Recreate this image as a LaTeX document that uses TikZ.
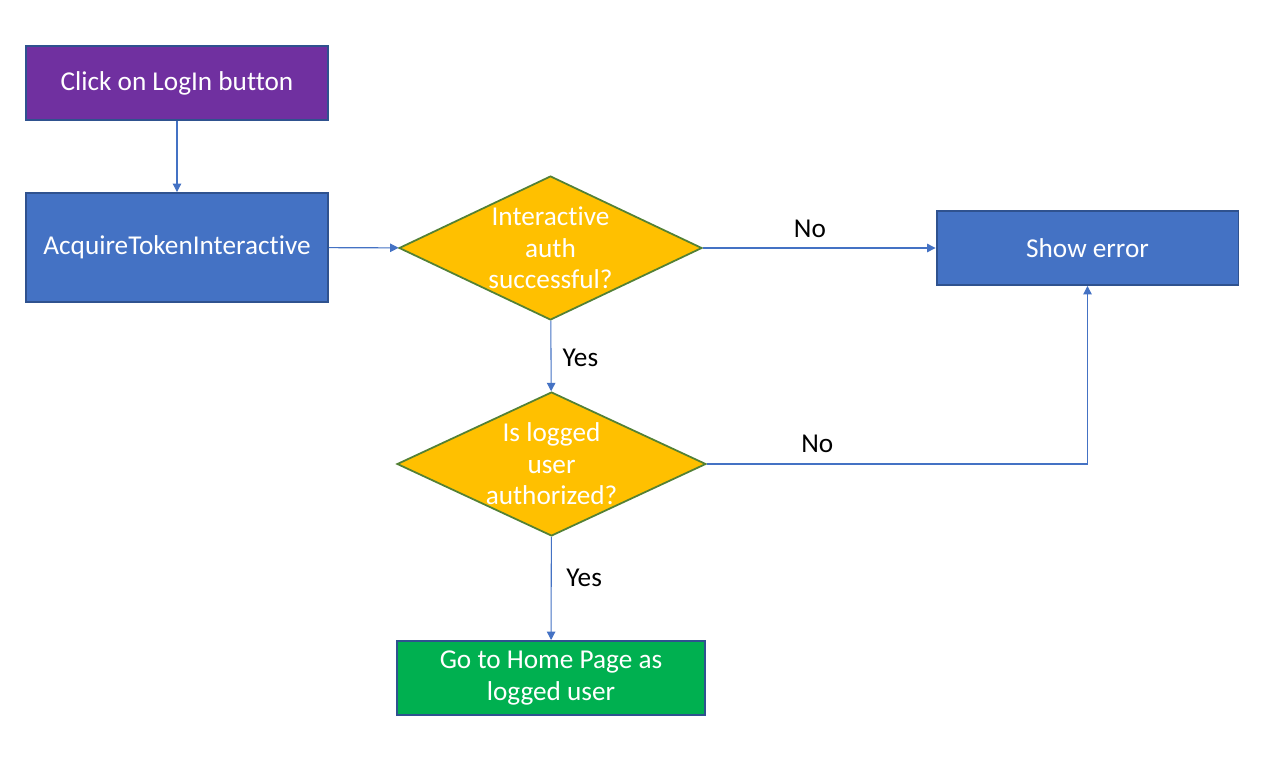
\documentclass[tikz,border=0pt]{standalone}
\usepackage{fontspec}
\setmainfont{Carlito}[Ligatures={NoCommon,NoRare}]
\usetikzlibrary{shapes.geometric,arrows.meta}

\definecolor{boxblue}{HTML}{4472C4}
\definecolor{boxedge}{HTML}{2F528F}
\definecolor{boxpurple}{HTML}{7030A0}
\definecolor{boxgreen}{HTML}{00B050}
\definecolor{decfill}{HTML}{FFC000}
\definecolor{decedge}{HTML}{538135}

\tikzset{
	process/.style={rectangle, draw=boxedge, line width=1.1pt, text=white,
		minimum width=6.04cm, align=center, inner sep=0pt},
	decision/.style={diamond, draw=decedge, line width=1pt, fill=decfill,
		minimum width=6.06cm, minimum height=2.88cm, inner sep=0pt},
	dectext/.style={text=white, align=center},
	flow/.style={boxblue, line width=0.6pt, -{Triangle[length=0.17cm,width=0.17cm]}},
	answer/.style={text=black}
}

\begin{document}
\begin{tikzpicture}[x=0.02cm,y=-0.02cm,font=\fontsize{15.5}{18}\selectfont]
		\fill[white] (0,0) rectangle (1270,761);
		\useasboundingbox (0,0) rectangle (1270,761);
		
		\node[process, fill=boxpurple, minimum height=1.48cm] (login) at (177,83) {Click on LogIn button};
		\node[process, fill=boxblue, minimum height=2.18cm] (acquire) at (177,247.5) {AcquireTokenInteractive};
		\node[decision] (auth) at (550.5,248) {};
		\node[dectext] (authtext) at (auth) {Interactive\\auth\\successful?};
		\node[process, fill=boxblue, minimum height=1.48cm] (error) at (1087.5,248) {Show error};
		\node[decision, minimum width=6.18cm] (user) at (551.5,464) {};
		\node[dectext] (usertext) at (user) {Is logged\\user\\authorized?};
		\node[process, fill=boxgreen, minimum width=6.16cm, minimum height=1.48cm] (home) at (551,678) {Go to Home Page as\\logged user};
		
		\draw[flow] (login) -- (acquire);
		\draw[flow] (acquire) -- (auth);
		\draw[flow] (auth) -- node[answer, pos=0.46, above, yshift=2pt] {No} (error);
		\draw[flow] (auth) -- node[answer, midway, right, xshift=3pt, yshift=-1pt] {Yes} (user);
		\draw[flow] (user.east) -| node[answer, pos=0.145, above, yshift=3pt] {No} (error.south);
		\draw[flow] (user) -- node[answer, pos=0.4, right, xshift=5pt] {Yes} (home);
	\end{tikzpicture}
\end{document}
